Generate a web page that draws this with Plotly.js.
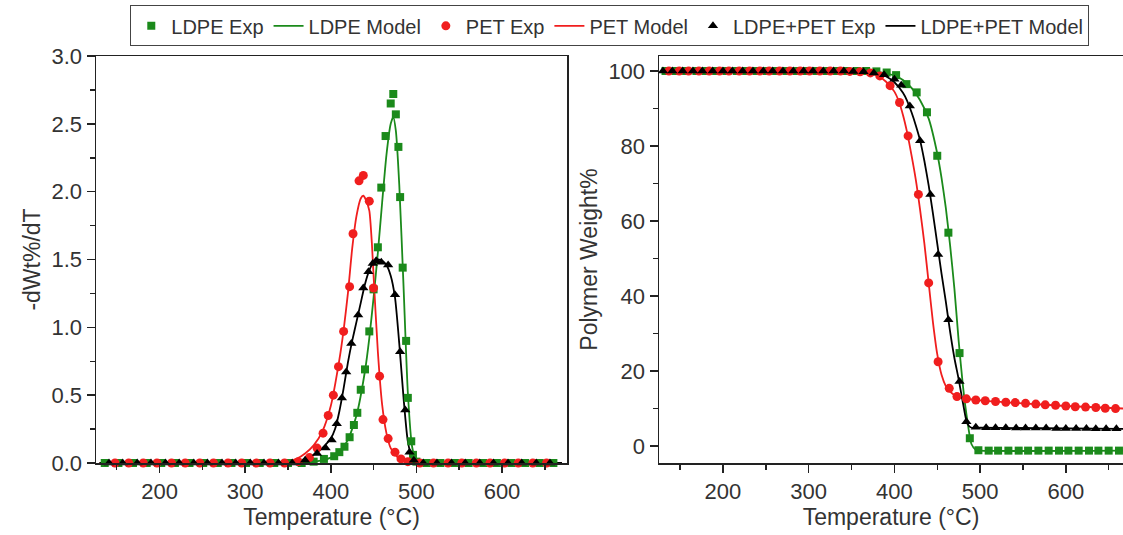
<!DOCTYPE html>
<html>
<head>
<meta charset="utf-8">
<script src="https://cdn.plot.ly/plotly-3.0.1.min.js"></script>
<style>html,body{margin:0;padding:0;background:#fff;}#chart{width:1123px;height:535px;}</style>
</head>
<body>
<div id="chart"></div>
<script>
// ---------- DTG (left panel) experimental data ----------
const ldpeDtgExpT = [136,152,169,185,202,218,235,251,268,284,301,317,334,350,366,380,392,404,410,416,422,427,431,435,440,445,450,455,459,464,470,473,476,479,481,484,488,490,494,496,500,512,528,545,561,578,594,611,627,644,660];
const ldpeDtgExpV = [0,0,0,0,0,0,0,0,0,0,0,0,0,0,0,0.01,0.03,0.05,0.08,0.12,0.19,0.28,0.37,0.54,0.69,0.97,1.28,1.59,2.03,2.41,2.65,2.72,2.57,2.33,1.96,1.44,0.90,0.48,0.16,0.06,0.01,0,0,0,0,0,0,0,0,0,0];

const petDtgExpT = [148,164,181,197,214,230,247,263,280,296,313,329,346,362,375,384,391,397,403,409,415,422,426,433,438,445,450,457,461,467,475,482,490,504,520,537,553,570,586,603,619,636,652];
const petDtgExpV = [0,0,0,0,0,0,0,0,0,0,0,0,0,0.01,0.04,0.11,0.22,0.35,0.50,0.71,0.97,1.30,1.69,2.08,2.12,1.93,1.29,0.64,0.32,0.18,0.08,0.03,0.01,0,0,0,0,0,0,0,0,0,0];

const mixDtgExpT = [141,157,174,190,207,223,240,256,273,289,306,322,339,355,370,384,394,401,407,413,418,424,432,438,444,449,453,459,467,475,481,487,492,497,508,524,541,557,574,590,607,623,640,656];
const mixDtgExpV = [0,0,0,0,0,0,0,0,0,0,0,0,0,0,0.02,0.07,0.11,0.17,0.29,0.48,0.67,0.88,1.09,1.29,1.41,1.47,1.49,1.48,1.46,1.24,0.82,0.39,0.08,0.02,0,0,0,0,0,0,0,0,0,0];

// ---------- DTG model curves ----------
const ldpeDtgModT = [130,350,370,380,390,400,410,420,430,440,445,450,455,460,465,470,473,476,480,485,490,495,500,510,670];
const ldpeDtgModV = [0,0,0.003,0.01,0.02,0.04,0.08,0.17,0.35,0.68,0.92,1.22,1.55,1.92,2.27,2.50,2.55,2.45,2.05,1.30,0.52,0.12,0.01,0,0];

const petDtgModT = [130,330,350,360,370,380,390,400,410,415,420,425,430,435,438,441,445,448,450,455,460,465,470,480,490,500,670];
const petDtgModV = [0,0,0.01,0.03,0.07,0.13,0.23,0.42,0.76,0.98,1.25,1.58,1.82,1.95,1.97,1.94,1.86,1.62,1.38,0.82,0.43,0.22,0.11,0.03,0.005,0,0];

const mixDtgModT = [130,340,360,370,380,390,400,405,410,415,420,425,430,435,440,445,450,455,460,465,470,475,480,485,490,495,500,510,670];
const mixDtgModV = [0,0,0.01,0.03,0.06,0.11,0.18,0.25,0.38,0.55,0.74,0.90,1.04,1.18,1.32,1.42,1.48,1.50,1.49,1.46,1.38,1.22,0.88,0.48,0.16,0.04,0.005,0,0];

// ---------- TGA (right panel) experimental data ----------
const ldpeTgaExpT = [133,145,157,169,180,192,204,216,227,239,251,262,274,286,297,309,321,333,344,356,367,379,391,402,414,426,438,450,463,476,488,498,510,521,533,545,556,568,580,592,603,615,627,638,650,662];
const ldpeTgaExpV = [100,100,100,100,100,100,100,100,100,100,100,100,100,100,100,100,100,100,100,100,100,99.9,99.6,98.9,96.5,94.3,89.0,77.4,56.9,24.8,2.1,-1.1,-1.2,-1.2,-1.2,-1.2,-1.2,-1.2,-1.2,-1.2,-1.2,-1.2,-1.2,-1.2,-1.2,-1.2];

const petTgaExpT = [137,149,160,172,184,196,207,219,231,243,254,266,278,290,301,313,325,337,348,360,372,383,395,406,416,428,440,451,464,473,484,495,506,518,530,541,553,565,576,588,600,611,623,635,646,658];
const petTgaExpV = [100,100,100,100,100,100,100,100,100,100,100,100,100,100,100,100,100,100,99.9,99.8,99.5,98.7,96.1,91.6,82.7,67.1,43.5,22.5,15.4,13.2,12.6,12.3,12.1,11.9,11.7,11.6,11.4,11.2,11.0,10.9,10.7,10.5,10.4,10.3,10.1,10.0];

const mixTgaExpT = [130,141,153,165,176,188,200,211,223,235,247,258,270,282,294,305,317,329,341,352,364,376,388,400,408,418,430,442,451,463,476,484,495,507,518,530,542,553,565,577,589,600,612,624,635,647,659];
const mixTgaExpV = [100,100,100,100,100,100,100,100,100,100,100,100,100,100,100,100,100,100,100,99.9,99.8,99.5,99.0,97.8,96.2,90.7,81.4,67.1,51.1,33.7,17.2,6.5,5.0,4.9,4.9,4.9,4.8,4.8,4.8,4.8,4.7,4.7,4.7,4.7,4.6,4.6,4.6];

// ---------- TGA model curves ----------
const ldpeTgaModT = [130,360,380,390,400,410,420,430,440,450,455,460,465,470,475,480,485,490,495,500,670];
const ldpeTgaModV = [100,99.9,99.7,99.4,98.8,97.6,95.5,92.2,87.3,78.0,71.5,63.5,53.5,42.0,28.0,16.0,7.0,0.5,-1.0,-1.2,-1.2];

const petTgaModT = [130,350,370,380,390,400,405,410,415,420,425,430,435,440,445,450,455,460,465,470,480,500,550,600,670];
const petTgaModV = [100,99.9,99.5,98.8,97.2,94.5,92.0,88.3,83.5,77.5,71.0,63.0,54.0,43.5,33.0,24.5,19.0,16.0,14.5,13.6,12.8,12.2,11.4,10.7,10.0];

const mixTgaModT = [130,360,380,390,400,410,415,420,425,430,435,440,445,450,455,460,465,470,475,480,485,490,500,670];
const mixTgaModV = [100,99.9,99.4,98.6,97.0,94.2,92.0,89.0,85.5,81.5,76.0,69.5,62.0,54.0,46.0,38.5,30.5,23.5,17.8,11.5,6.0,4.9,4.9,4.6];

// ---------- styling ----------
const GREEN = '#1b8a1b', RED = '#f01e1e', BLACK = '#000000';
const FONT = 'Liberation Sans, Arial, sans-serif';
const names = ['LDPE Exp','LDPE Model','PET Exp','PET Model','LDPE+PET Exp','LDPE+PET Model'];

function modelTrace(x, y, color, name, rank, xa, ya, show) {
  return {x: x, y: y, type: 'scatter', mode: 'lines', name: name, legendrank: rank,
    showlegend: show, xaxis: xa, yaxis: ya, line: {color: color, width: 1.8, shape: 'spline', smoothing: 0.6}, cliponaxis: false};
}
function expTrace(x, y, color, symbol, size, name, rank, xa, ya, show) {
  return {x: x, y: y, type: 'scatter', mode: 'markers', name: name, legendrank: rank,
    showlegend: show, xaxis: xa, yaxis: ya, cliponaxis: false,
    marker: {color: color, symbol: symbol, size: size, line: {width: 0}}};
}

const data = [
  modelTrace(ldpeDtgModT, ldpeDtgModV, GREEN, names[1], 2, 'x', 'y', true),
  modelTrace(petDtgModT, petDtgModV, RED, names[3], 4, 'x', 'y', true),
  modelTrace(mixDtgModT, mixDtgModV, BLACK, names[5], 6, 'x', 'y', true),
  expTrace(ldpeDtgExpT, ldpeDtgExpV, GREEN, 'square', 8, names[0], 1, 'x', 'y', true),
  expTrace(petDtgExpT, petDtgExpV, RED, 'circle', 9, names[2], 3, 'x', 'y', true),
  expTrace(mixDtgExpT, mixDtgExpV, BLACK, 'triangle-up', 9, names[4], 5, 'x', 'y', true),

  modelTrace(ldpeTgaModT, ldpeTgaModV, GREEN, names[1], 2, 'x2', 'y2', false),
  modelTrace(petTgaModT, petTgaModV, RED, names[3], 4, 'x2', 'y2', false),
  modelTrace(mixTgaModT, mixTgaModV, BLACK, names[5], 6, 'x2', 'y2', false),
  expTrace(ldpeTgaExpT, ldpeTgaExpV, GREEN, 'square', 8, names[0], 1, 'x2', 'y2', false),
  expTrace(petTgaExpT, petTgaExpV, RED, 'circle', 9, names[2], 3, 'x2', 'y2', false),
  expTrace(mixTgaExpT, mixTgaExpV, BLACK, 'triangle-up', 9, names[4], 5, 'x2', 'y2', false)
];

const axisCommon = {
  showgrid: false, zeroline: false, showline: true, linecolor: '#222', linewidth: 1.5,
  ticks: 'outside', ticklen: 8, tickwidth: 1.5, tickcolor: '#222',
  tickfont: {family: FONT, size: 22, color: '#333'}, automargin: false
};
const W = 1123, H = 535;
const yDom = [(H - 463) / H, (H - 56) / H];

const layout = {
  width: W, height: H,
  margin: {l: 0, r: 0, t: 0, b: 0},
  paper_bgcolor: '#fff', plot_bgcolor: '#fff',
  font: {family: FONT, color: '#333'},
  showlegend: true,
  legend: {orientation: 'h', x: 0.543, xanchor: 'center', y: 0.99, yanchor: 'top',
    bordercolor: '#444', borderwidth: 1, bgcolor: '#fff',
    font: {family: FONT, size: 20, color: '#333'}, itemwidth: 30, traceorder: 'normal'},
  xaxis: Object.assign({}, axisCommon, {
    domain: [96 / W, 567 / W], range: [125.8, 675.9], dtick: 100, tick0: 0, mirror: true,
    minor: {dtick: 50, ticklen: 5, tickwidth: 1.5, tickcolor: '#222', ticks: 'outside', showgrid: false},
    title: {text: 'Temperature (°C)', font: {family: FONT, size: 23, color: '#333'}, standoff: 2}, anchor: 'y'
  }),
  yaxis: Object.assign({}, axisCommon, {
    domain: yDom, range: [0, 3.0], dtick: 0.5, tick0: 0, tickformat: '.1f', mirror: true,
    minor: {dtick: 0.25, ticklen: 5, tickwidth: 1.5, tickcolor: '#222', ticks: 'outside', showgrid: false},
    title: {text: '-dWt%/dT', font: {family: FONT, size: 23, color: '#333'}, standoff: 4}, anchor: 'x'
  }),
  xaxis2: Object.assign({}, axisCommon, {
    domain: [659 / W, 1], range: [125.4, 666.7], dtick: 100, tick0: 0, mirror: true,
    minor: {dtick: 50, ticklen: 5, tickwidth: 1.5, tickcolor: '#222', ticks: 'outside', showgrid: false},
    title: {text: 'Temperature (°C)', font: {family: FONT, size: 23, color: '#333'}, standoff: 2}, anchor: 'y2'
  }),
  yaxis2: Object.assign({}, axisCommon, {
    domain: yDom, range: [-4.5, 104], dtick: 20, tick0: 0, mirror: false,
    minor: {dtick: 10, ticklen: 5, tickwidth: 1.5, tickcolor: '#222', ticks: 'outside', showgrid: false},
    title: {text: 'Polymer Weight%', font: {family: FONT, size: 23, color: '#333'}, standoff: 4}, anchor: 'x2'
  })
};

Plotly.newPlot('chart', data, layout, {displayModeBar: false, staticPlot: true});
</script>
</body>
</html>
